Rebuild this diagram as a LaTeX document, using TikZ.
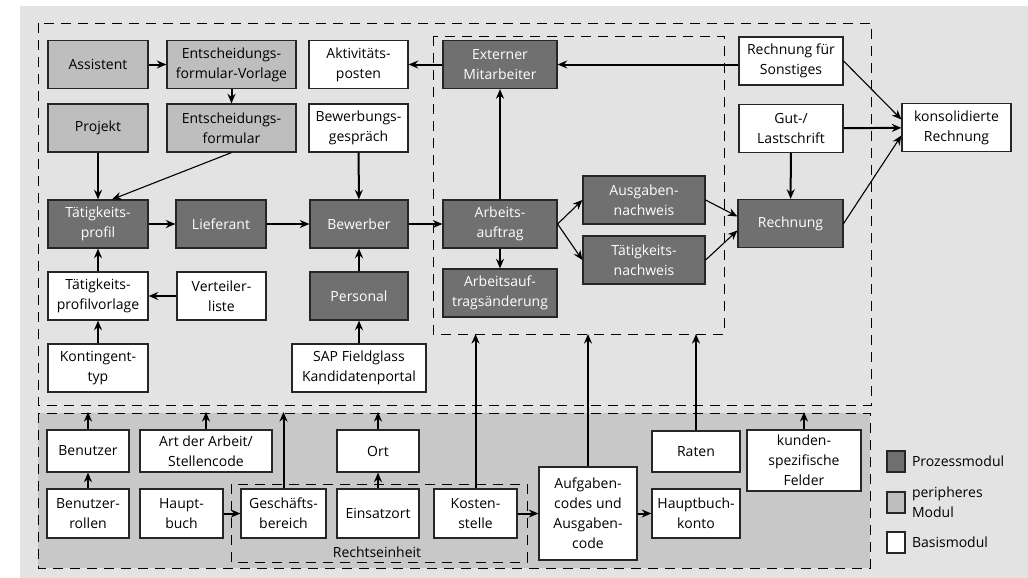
\documentclass[tikz,border=0pt]{standalone}
\usepackage{fontspec}
\setmainfont{Open Sans}
\usetikzlibrary{arrows.meta}
\definecolor{bgGrey}{RGB}{227,227,227}
\definecolor{baseGrey}{RGB}{200,200,200}
\definecolor{procGrey}{RGB}{112,112,112}
\definecolor{periGrey}{RGB}{190,190,190}

\begin{document}
\begin{tikzpicture}[x=0.5pt, y=-0.5pt,
    lbl/.style={font=\fontsize{7}{10}\selectfont},
    box/.style={lbl, draw=black!85, line width=0.6pt, inner sep=1pt, align=center, minimum height=24pt},
    procbox/.style={box, fill=procGrey, text=white},
    peribox/.style={box, fill=periGrey},
    basebox/.style={box, fill=white},
    arr/.style={-{Stealth[length=4.8pt,width=4pt]}, line width=1pt},
    thinarr/.style={-{Stealth[length=4.8pt,width=4pt]}, line width=0.55pt},
    frame/.style={dash pattern=on 5pt off 3.5pt, line width=0.5pt}]

    \useasboundingbox (0,0) rectangle (1028,578);
    \fill[bgGrey] (20,6) rectangle (1028,578);
    \draw[frame] (38,23) rectangle (871,405);
    \draw[frame, fill=baseGrey] (38,413) rectangle (870,568);
    \draw[frame] (433,36) rectangle (724,334);
    \draw[frame] (231,484) rectangle (527,562);
    \node[lbl] (rechtsLbl) at (377,552) {Rechtseinheit};

    \coordinate (lowLine) at (0,412);
    \coordinate (procLine) at (0,334);

    % upper part
    \node[peribox, minimum width=50pt] (assistent) at (98,64.5) {Assistent};
    \node[peribox, minimum width=64.5pt] (efVorlage) at (231.5,64.5) {Entscheidungs-\\formular-Vorlage};
    \node[basebox, minimum width=49.5pt] (aktiv) at (358.5,64.5) {Aktivitäts-\\posten};
    \node[procbox, minimum width=57pt] (extern) at (500,64.5) {Externer\\Mitarbeiter};
    \node[basebox, minimum width=52pt] (rgSonst) at (791,61) {Rechnung für\\Sonstiges};
    \node[peribox, minimum width=50pt] (projekt) at (98,128) {Projekt};
    \node[peribox, minimum width=64.5pt] (ef) at (231.5,128) {Entscheidungs-\\formular};
    \node[basebox, minimum width=49.5pt] (gespraech) at (358.5,128) {Bewerbungs-\\gespräch};
    \node[basebox, minimum width=52pt] (gutLast) at (791,128.5) {Gut-/\\Lastschrift};
    \node[basebox, minimum width=54.5pt] (konsol) at (956.5,127.5) {konsolidierte\\Rechnung};
    \node[procbox, minimum width=50pt] (profil) at (98,224) {Tätigkeits-\\profil};
    \node[procbox, minimum width=45pt] (lieferant) at (221,224) {Lieferant};
    \node[procbox, minimum width=49pt] (bewerber) at (359,224) {Bewerber};
    \node[procbox, minimum width=57pt] (auftrag) at (500,224) {Arbeits-\\auftrag};
    \node[procbox, minimum width=61pt] (ausgNw) at (644,200) {Ausgaben-\\nachweis};
    \node[procbox, minimum width=61pt] (taetNw) at (644,260) {Tätigkeits-\\nachweis};
    \node[procbox, minimum width=52.5pt] (rechnung) at (790.5,223.5) {Rechnung};
    \node[basebox, minimum width=50pt] (vorlage) at (98,296) {Tätigkeits-\\profilvorlage};
    \node[basebox, minimum width=44.5pt] (verteiler) at (221.5,296) {Verteiler-\\liste};
    \node[procbox, minimum width=49pt] (personal) at (359,296) {Personal};
    \node[procbox, minimum width=57pt] (aenderung) at (500,293) {Arbeitsauf-\\tragsänderung};
    \node[basebox, minimum width=50pt] (kontingent) at (98,368) {Kontingent-\\typ};
    \node[basebox, minimum width=67pt] (portal) at (359,368) {SAP Fieldglass\\Kandidatenportal};

    % basis modules
    \node[basebox, minimum width=41pt, minimum height=21pt] (benutzer) at (88,451) {Benutzer};
    \node[basebox, minimum width=66pt, minimum height=21pt] (artArbeit) at (206,451) {Art der Arbeit/\\Stellencode};
    \node[basebox, minimum width=41pt, minimum height=21pt] (ort) at (378,451) {Ort};
    \node[basebox, minimum width=44pt, minimum height=20.5pt] (raten) at (696,451.5) {Raten};
    \node[basebox, minimum width=57pt, minimum height=30.5pt] (kundenF) at (804,460.5) {kunden-\\spezifische\\Felder};
    \node[basebox, minimum width=41pt, minimum height=24.5pt] (rollen) at (88,513.5) {Benutzer-\\rollen};
    \node[basebox, minimum width=41.5pt, minimum height=24.5pt] (hauptbuch) at (181.5,513.5) {Haupt-\\buch};
    \node[basebox, minimum width=42.5pt, minimum height=24.5pt] (geschBer) at (283.5,513.5) {Geschäfts-\\bereich};
    \node[basebox, minimum width=41pt, minimum height=24.5pt] (einsatz) at (378,513.5) {Einsatzort};
    \node[basebox, minimum width=41.5pt, minimum height=24.5pt] (kosten) at (475.5,513.5) {Kosten-\\stelle};
    \node[basebox, minimum width=49pt, minimum height=46.5pt] (aufgaben) at (588,513.5) {Aufgaben-\\codes und\\Ausgaben-\\code};
    \node[basebox, minimum width=44pt, minimum height=24.5pt] (hbKonto) at (696,513.5) {Hauptbuch-\\konto};

    % legend
    \node[procbox, minimum width=9pt, minimum height=10.5pt] (legProc) at (896,461.5) {};
    \node[lbl, anchor=west, inner sep=0pt] (legProcTxt) at ([xshift=3pt]legProc.east) {Prozessmodul};
    \node[peribox, minimum width=9pt, minimum height=10.5pt] (legPeri) at (896,502.5) {};
    \node[lbl, anchor=west, inner sep=0pt, align=left] (legPeriTxt) at ([xshift=3pt]legPeri.east) {peripheres\\Modul};
    \node[basebox, minimum width=9pt, minimum height=10.5pt] (legBase) at (896,542.5) {};
    \node[lbl, anchor=west, inner sep=0pt] (legBaseTxt) at ([xshift=3pt]legBase.east) {Basismodul};

    % connectors
    \draw[arr] (assistent) -- (efVorlage);
    \draw[arr] (efVorlage) -- (ef);
    \draw[arr] (projekt) -- (profil);
    \draw[thinarr] (ef.south) -- ([xshift=7pt]profil.north);
    \draw[arr] (gespraech) -- (bewerber);
    \draw[arr] (extern) -- (aktiv);
    \draw[arr] (rgSonst.west |- extern.east) -- (extern.east);
    \draw[thinarr] (rgSonst.east) -- ([yshift=4pt]konsol.west);
    \draw[arr] (gutLast) -- (konsol);
    \draw[arr] (gutLast) -- (rechnung);
    \draw[thinarr] (rechnung.east) -- ([yshift=-4pt]konsol.west);
    \draw[arr] (profil) -- (lieferant);
    \draw[arr] (lieferant) -- (bewerber);
    \draw[arr] (bewerber) -- (auftrag);
    \draw[arr] (vorlage) -- (profil);
    \draw[arr] (verteiler) -- (vorlage);
    \draw[arr] (kontingent) -- (vorlage);
    \draw[arr] (personal) -- (bewerber);
    \draw[arr] (portal) -- (personal);
    \draw[arr] (auftrag) -- (extern);
    \draw[arr] (auftrag) -- (aenderung);
    \draw[thinarr] (auftrag.east) -- (ausgNw.west);
    \draw[thinarr] (auftrag.east) -- (taetNw.west);
    \draw[thinarr] (ausgNw.east) -- ([yshift=3.5pt]rechnung.west);
    \draw[thinarr] (taetNw.east) -- ([yshift=-3.5pt]rechnung.west);

    \draw[arr] (rollen) -- (benutzer);
    \draw[arr] (benutzer.north) -- (benutzer.north |- lowLine);
    \draw[arr] (artArbeit.north) -- (artArbeit.north |- lowLine);
    \draw[arr] (geschBer.north) -- (geschBer.north |- lowLine);
    \draw[arr] (ort.north) -- (ort.north |- lowLine);
    \draw[arr] (kundenF.north) -- (kundenF.north |- lowLine);
    \draw[arr] (einsatz) -- (ort);
    \draw[arr] (hauptbuch) -- (geschBer);
    \draw[arr] (kosten) -- (aufgaben);
    \draw[arr] (aufgaben) -- (hbKonto);
    \draw[arr] (kosten.north) -- (kosten.north |- procLine);
    \draw[arr] (aufgaben.north) -- (aufgaben.north |- procLine);
    \draw[arr] (raten.north) -- (raten.north |- procLine);
\end{tikzpicture}
\end{document}
